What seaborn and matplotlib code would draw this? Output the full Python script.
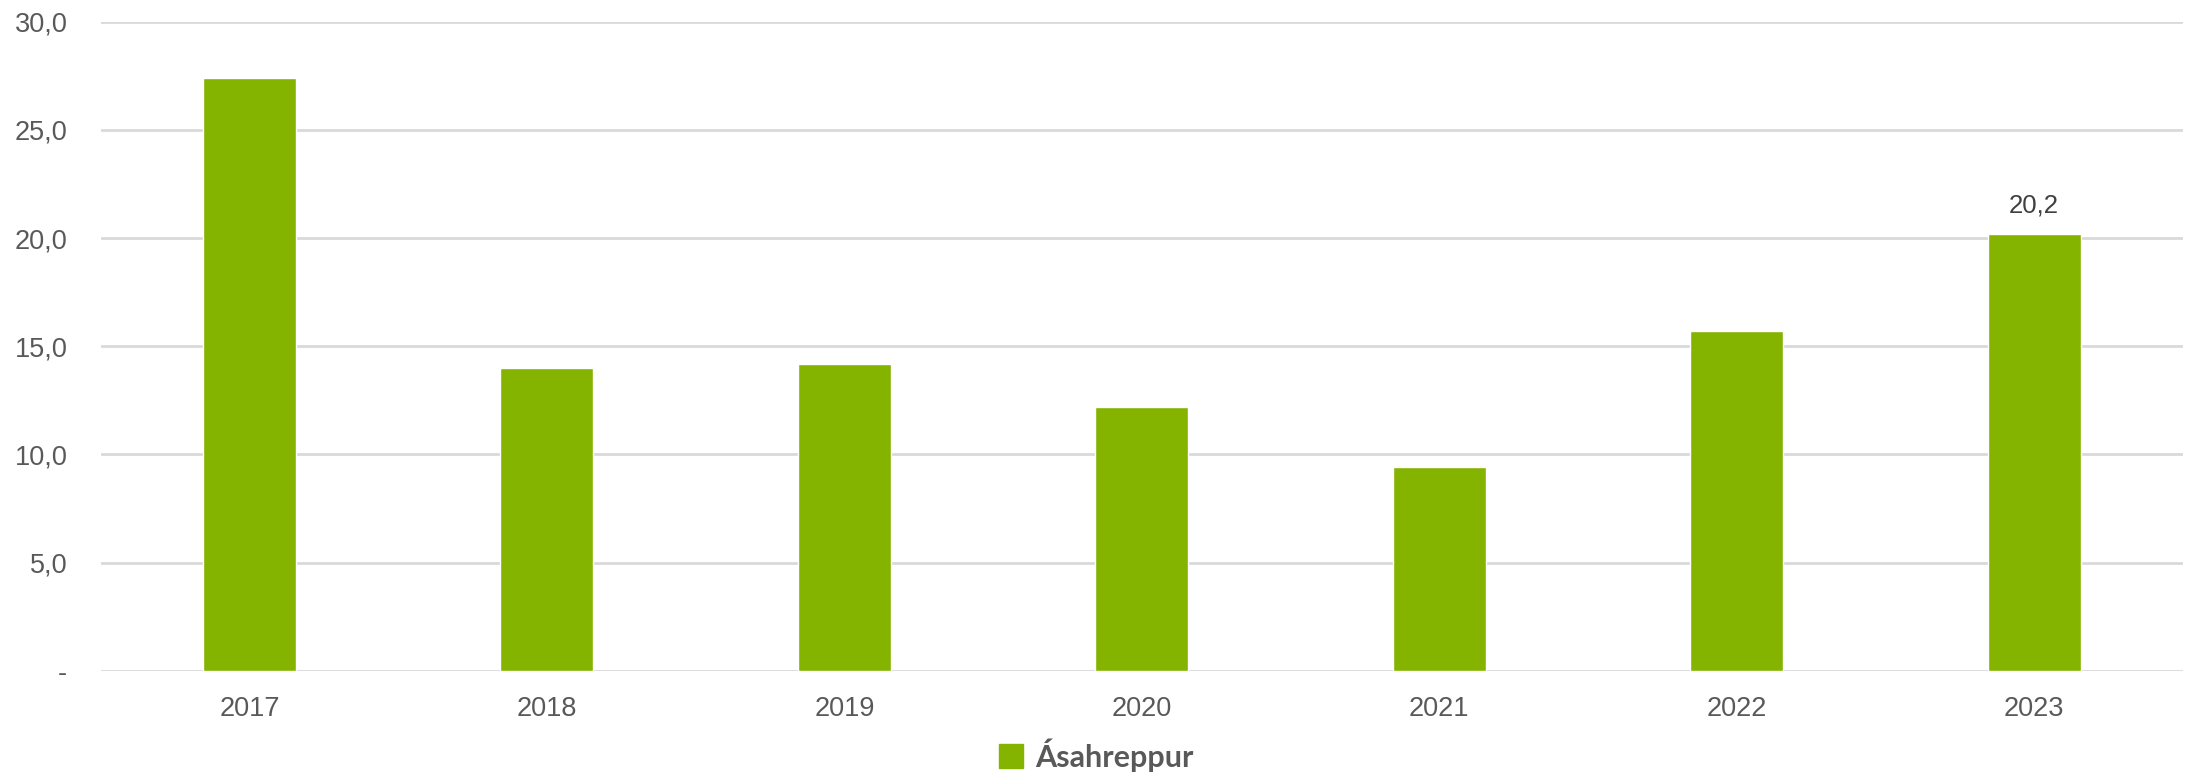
import seaborn as sns
import matplotlib.pyplot as plt
import pandas as pd
from matplotlib.ticker import FuncFormatter
from matplotlib.patches import Patch

years = ["2017", "2018", "2019", "2020", "2021", "2022", "2023"]
values = [27.4, 14.0, 14.2, 12.2, 9.4, 15.7, 20.2]
series = "Ásahreppur"

df = pd.DataFrame({"year": years, "value": values})

sns.set_theme(style="white")
plt.rcParams["font.family"] = ["Liberation Sans", "DejaVu Sans"]

green = "#84B400"
grey_text = "#595959"

fig = plt.figure(figsize=(21.93, 7.82), dpi=100)
ax = fig.add_axes([0.0459, 0.1423, 0.9495, 0.8299])

sns.barplot(data=df, x="year", y="value", color=green, width=0.313,
            saturation=1, ax=ax, zorder=3)

ax.set_ylim(0, 30)
ax.set_yticks([0, 5, 10, 15, 20, 25, 30])
ax.yaxis.set_major_formatter(FuncFormatter(
    lambda v, p: "-" if v == 0 else f"{v:.1f}".replace(".", ",")))
ax.grid(axis="y", color="#D9D9D9", linewidth=2, zorder=0)
ax.set_axisbelow(True)
for s in ax.spines.values():
    s.set_visible(False)
ax.tick_params(axis="y", length=0, pad=24, labelsize=19.5, labelcolor=grey_text)
ax.tick_params(axis="x", length=0, pad=18, labelsize=19.5, labelcolor=grey_text)
ax.set_xlabel("")
ax.set_ylabel("")

# data label on last bar
last = ax.patches[-1]
ax.annotate(f"{values[-1]:.1f}".replace(".", ","),
            (last.get_x() + last.get_width() / 2, last.get_height()),
            xytext=(0, 12), textcoords="offset points", ha="center",
            va="bottom", fontsize=18.5, color="#404040")

fig.legend(handles=[Patch(color=green, label=series)], loc="lower center",
           bbox_to_anchor=(0.5, -0.022), frameon=False, handlelength=0.8,
           handleheight=0.8, handletextpad=0.4,
           prop={"family": ["Lato", "DejaVu Sans"], "weight": "bold", "size": 22},
           labelcolor=grey_text)

fig.savefig("out.png", dpi=100)
